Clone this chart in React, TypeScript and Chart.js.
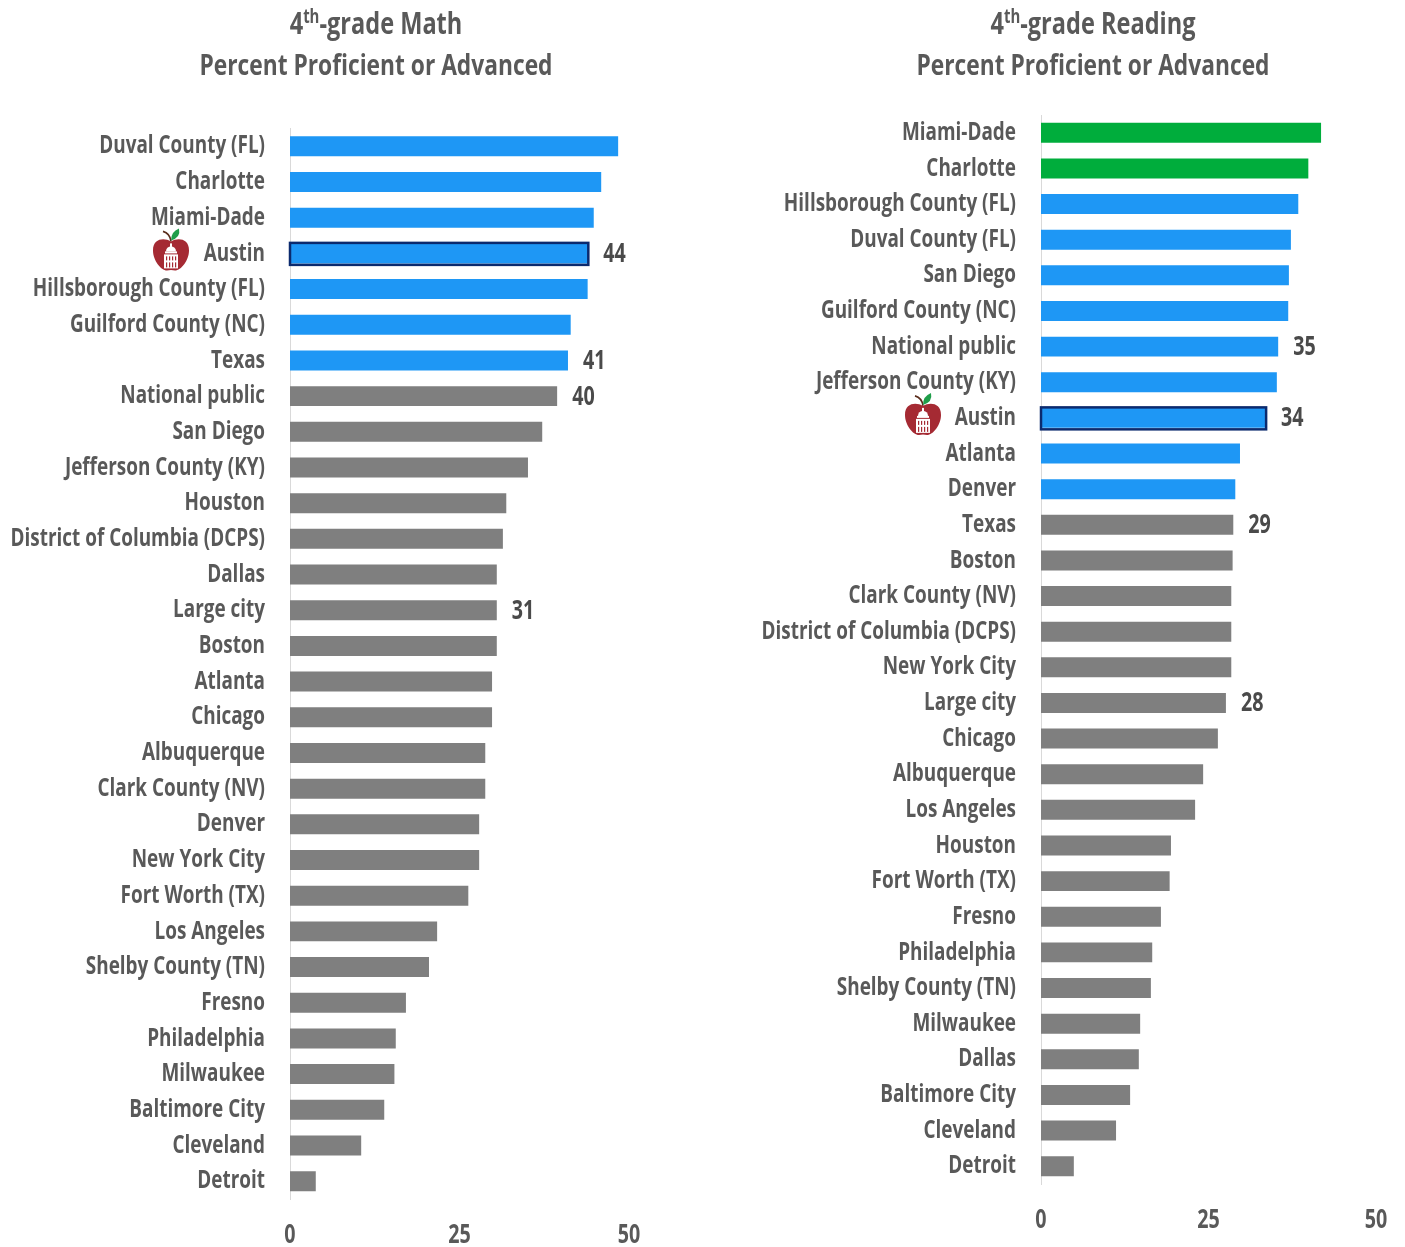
import React, { useEffect, useRef } from "react";
import { Chart, registerables } from "chart.js";

Chart.register(...registerables);

const FONT = '"Open Sans", "Noto Sans", sans-serif';
const CONDENSE = 0.757;
const TEXT = "#595959";
const BLUE = "#1e97f5";
const GRAY = "#7f7f7f";
const GREEN = "#00ad3c";
const NAVY = "#0b2a6e";

const mathCategories = ["Duval County (FL)", "Charlotte", "Miami-Dade", "Austin", "Hillsborough County (FL)", "Guilford County (NC)", "Texas", "National public", "San Diego", "Jefferson County (KY)", "Houston", "District of Columbia (DCPS)", "Dallas", "Large city", "Boston", "Atlanta", "Chicago", "Albuquerque", "Clark County (NV)", "Denver", "New York City", "Fort Worth (TX)", "Los Angeles", "Shelby County (TN)", "Fresno", "Philadelphia", "Milwaukee", "Baltimore City", "Cleveland", "Detroit"];
const mathValues = [48.4, 45.9, 44.8, 44, 43.9, 41.4, 41, 39.4, 37.2, 35.1, 31.9, 31.4, 30.5, 30.5, 30.5, 29.8, 29.8, 28.8, 28.8, 27.9, 27.9, 26.3, 21.7, 20.5, 17.1, 15.6, 15.4, 13.9, 10.5, 3.8];
const mathColors = [BLUE, BLUE, BLUE, BLUE, BLUE, BLUE, BLUE, GRAY, GRAY, GRAY, GRAY, GRAY, GRAY, GRAY, GRAY, GRAY, GRAY, GRAY, GRAY, GRAY, GRAY, GRAY, GRAY, GRAY, GRAY, GRAY, GRAY, GRAY, GRAY, GRAY];
const mathLabels: Record<string, string> = { Austin: "44", Texas: "41", "National public": "40", "Large city": "31" };

const readingCategories = ["Miami-Dade", "Charlotte", "Hillsborough County (FL)", "Duval County (FL)", "San Diego", "Guilford County (NC)", "National public", "Jefferson County (KY)", "Austin", "Atlanta", "Denver", "Texas", "Boston", "Clark County (NV)", "District of Columbia (DCPS)", "New York City", "Large city", "Chicago", "Albuquerque", "Los Angeles", "Houston", "Fort Worth (TX)", "Fresno", "Philadelphia", "Shelby County (TN)", "Milwaukee", "Dallas", "Baltimore City", "Cleveland", "Detroit"];
const readingValues = [41.8, 39.9, 38.4, 37.3, 37, 36.9, 35.4, 35.2, 33.6, 29.7, 29, 28.7, 28.6, 28.4, 28.4, 28.4, 27.6, 26.4, 24.2, 23, 19.4, 19.2, 17.9, 16.6, 16.4, 14.8, 14.6, 13.3, 11.2, 4.9];
const readingColors = [GREEN, GREEN, BLUE, BLUE, BLUE, BLUE, BLUE, BLUE, BLUE, BLUE, BLUE, GRAY, GRAY, GRAY, GRAY, GRAY, GRAY, GRAY, GRAY, GRAY, GRAY, GRAY, GRAY, GRAY, GRAY, GRAY, GRAY, GRAY, GRAY, GRAY];
const readingLabels: Record<string, string> = { "National public": "35", Austin: "34", Texas: "29", "Large city": "28" };

const xTicks = [0, 25, 50];
const HIGHLIGHT = "Austin";

function drawApple(ctx: CanvasRenderingContext2D, cx: number, cy: number) {
  ctx.save();
  ctx.translate(cx, cy);
  ctx.strokeStyle = "#5a2d1c";
  ctx.lineWidth = 1.6;
  ctx.beginPath();
  ctx.moveTo(-8, -21);
  ctx.quadraticCurveTo(-1, -19, 0, -11);
  ctx.stroke();
  ctx.fillStyle = "#1f9e4a";
  ctx.beginPath();
  ctx.moveTo(0, -12);
  ctx.quadraticCurveTo(0, -21, 8, -24);
  ctx.quadraticCurveTo(10, -15, 0, -12);
  ctx.fill();
  ctx.fillStyle = "#a52a33";
  ctx.beginPath();
  ctx.moveTo(0, -11);
  ctx.bezierCurveTo(-7, -15, -18, -14, -18, -2);
  ctx.bezierCurveTo(-18, 8, -10, 18, -4, 18);
  ctx.quadraticCurveTo(0, 17, 4, 18);
  ctx.bezierCurveTo(10, 18, 18, 8, 18, -2);
  ctx.bezierCurveTo(18, -14, 7, -15, 0, -11);
  ctx.fill();
  ctx.fillStyle = "#ffffff";
  ctx.beginPath();
  ctx.arc(0, -1, 5, Math.PI, 0);
  ctx.fill();
  ctx.fillRect(-1, -9, 2, 4);
  ctx.fillRect(-6, -1, 12, 2);
  ctx.fillRect(-7, 2, 14, 14);
  ctx.fillStyle = "#a52a33";
  for (const x of [-5, -2, 1, 4]) {
    ctx.fillRect(x, 4, 1.2, 4);
    ctx.fillRect(x, 10, 1.2, 5);
  }
  ctx.restore();
}

// Horizontally condenses every text drawn on the chart's canvas, anchored at the text's own x.
function condenseCanvasText(ctx: any) {
  const original = ctx.fillText.bind(ctx);
  ctx.fillText = (text: string, x: number, y: number) => {
    ctx.save();
    ctx.translate(x, y);
    ctx.scale(CONDENSE, 1);
    original(text, 0, 0);
    ctx.restore();
  };
}

function makeChart(
  canvas: HTMLCanvasElement,
  categories: string[],
  values: number[],
  colors: string[],
  labels: Record<string, string>,
  area: { left: number; right: number; top: number; bottom: number },
  appleOffsetX: number
) {
  condenseCanvasText(canvas.getContext("2d"));
  const overlay = {
    id: "overlay",
    afterDatasetsDraw(chart: any) {
      const { ctx } = chart;
      const meta = chart.getDatasetMeta(0);
      ctx.save();
      ctx.font = `bold 26px ${FONT}`;
      ctx.fillStyle = "#4a4a4a";
      ctx.textAlign = "left";
      ctx.textBaseline = "middle";
      categories.forEach((c, i) => {
        const bar = meta.data[i];
        if (labels[c]) ctx.fillText(labels[c], bar.x + 15, bar.y + 1);
        if (c === HIGHLIGHT) {
          drawApple(ctx, chart.chartArea.left + appleOffsetX, bar.y - 1);
          ctx.strokeStyle = NAVY;
          ctx.lineWidth = 2.5;
          ctx.strokeRect(bar.base, bar.y - 10.5, bar.x - bar.base, bar.height + 2);
        }
      });
      ctx.restore();
    },
  };
  return new Chart(canvas, {
    type: "bar",
    data: {
      labels: categories,
      datasets: [
        {
          data: values,
          backgroundColor: colors,
          borderWidth: 0,
          barPercentage: 0.56,
          categoryPercentage: 1,
        },
      ],
    },
    plugins: [overlay],
    options: {
      indexAxis: "y",
      animation: false,
      responsive: false,
      devicePixelRatio: 1,
      layout: { padding: { top: area.top, right: canvas.width - area.right, left: 0, bottom: 0 } },
      plugins: { legend: { display: false }, tooltip: { enabled: false }, title: { display: false } },
      scales: {
        x: {
          min: 0,
          max: 50,
          afterBuildTicks(scale: any) {
            scale.ticks = xTicks.map((value) => ({ value }));
          },
          afterFit(scale: any) {
            scale.height = canvas.height - area.bottom;
            scale.paddingLeft = 0;
            scale.paddingRight = 0;
          },
          grid: { display: false, drawTicks: false },
          border: { display: false },
          ticks: { padding: 21, maxRotation: 0, color: TEXT, font: { family: FONT, size: 26, weight: "bold" } },
        },
        y: {
          afterFit(scale: any) {
            scale.width = area.left;
          },
          grid: { display: false, drawTicks: false },
          border: { display: true, color: "#d9d9d9", width: 1 },
          ticks: { padding: 25, autoSkip: false, color: TEXT, font: { family: FONT, size: 25, weight: "bold" } },
        },
      },
    } as any,
  });
}

function ChartTitle({ subject, center }: { subject: string; center: number }) {
  return (
    <div
      style={{
        position: "absolute",
        left: center - 300,
        width: 600,
        top: 2,
        textAlign: "center",
        fontFamily: FONT,
        fontWeight: "bold",
        fontSize: 29,
        lineHeight: "41px",
        color: TEXT,
        transform: "scaleX(0.785)",
      }}
    >
      <div style={{ fontSize: 30 }}>
        4<sup style={{ fontSize: 19, lineHeight: 0 }}>th</sup>-grade {subject}
      </div>
      <div>Percent Proficient or Advanced</div>
    </div>
  );
}

export default function App() {
  const leftRef = useRef<HTMLCanvasElement>(null);
  const rightRef = useRef<HTMLCanvasElement>(null);

  useEffect(() => {
    const a = makeChart(leftRef.current!, mathCategories, mathValues, mathColors, mathLabels, { left: 290, right: 629, top: 128.5, bottom: 1199 }, -119);
    const b = makeChart(rightRef.current!, readingCategories, readingValues, readingColors, readingLabels, { left: 341, right: 676, top: 115, bottom: 1184 }, -118);
    return () => {
      a.destroy();
      b.destroy();
    };
  }, []);

  return (
    <div style={{ position: "absolute", left: 0, top: 0, width: 1405, height: 1247, overflow: "hidden", background: "#fff" }}>
      <canvas ref={leftRef} width={700} height={1247} style={{ position: "absolute", left: 0, top: 0 }} />
      <canvas ref={rightRef} width={705} height={1247} style={{ position: "absolute", left: 700, top: 0 }} />
      <ChartTitle subject="Math" center={376} />
      <ChartTitle subject="Reading" center={1093} />
    </div>
  );
}
